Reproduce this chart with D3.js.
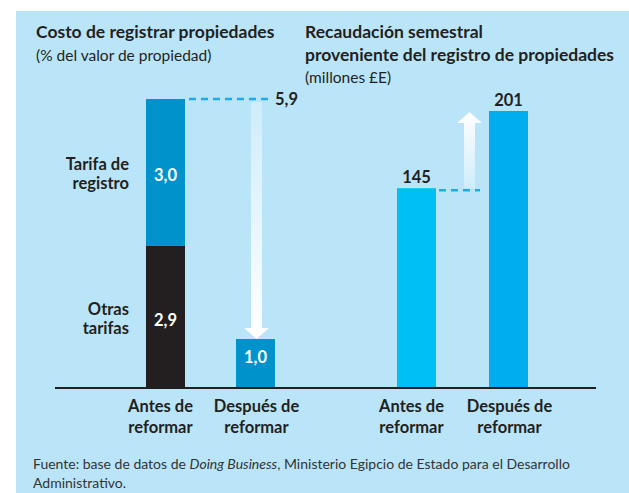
<!DOCTYPE html>
<html>
<head>
<meta charset="utf-8">
<script src="https://cdn.jsdelivr.net/npm/d3@7"></script>
<style>
  html, body { margin: 0; padding: 0; background: #fff; }
  svg { display: block; font-family: Lato, "Noto Sans", sans-serif; }
</style>
</head>
<body>
<div id="chart"></div>
<script>
// Left chart: cost of registering property (% of property value)
const costCategories = ["Antes de reformar", "Después de reformar"];
const otrasTarifas = [2.9, 0];
const tarifaRegistro = [3.0, 1.0];
const costTotalLabel = "5,9";

// Right chart: half-year revenue from property registration (millions £E)
const revCategories = ["Antes de reformar", "Después de reformar"];
const revValues = [145, 201];

const fmt = (v) => d3.format(".1f")(v).replace(".", ",");

const width = 629;
const height = 493;
const baseY = 388;
const barW = 39;

const ink = "#231f20";
const darkBlue = "#0093cb";
const dashBlue = "#1aaee8";
const revColors = ["#00bff3", "#00aeef"];

const titleSize = 17.5;
const subSize = 15.5;
const labelSize = 16.5;

const svg = d3.create("svg")
  .attr("viewBox", [0, 0, width, height])
  .attr("width", width)
  .attr("height", height);

svg.append("rect")
  .attr("x", 16).attr("y", 11)
  .attr("width", width - 16).attr("height", height - 11)
  .attr("fill", "#bae5f9");

const defs = svg.append("defs");
function arrowGradient(id, fadeTop) {
  const g = defs.append("linearGradient")
    .attr("id", id).attr("x1", 0).attr("x2", 0).attr("y1", 0).attr("y2", 1);
  g.append("stop").attr("offset", "0%").attr("stop-color", "#fff")
    .attr("stop-opacity", fadeTop ? 0.3 : 1);
  g.append("stop").attr("offset", "100%").attr("stop-color", "#fff")
    .attr("stop-opacity", fadeTop ? 1 : 0.3);
}
arrowGradient("gradDown", true);
arrowGradient("gradUp", false);

function arrowPath(cx, yFrom, yTo) {
  // shaft 11 wide, head 25 wide, 11 tall
  const dir = yTo > yFrom ? 1 : -1;
  const headBase = yTo - dir * 11;
  return `M${cx - 5.5},${yFrom} L${cx + 5.5},${yFrom} L${cx + 5.5},${headBase}
    L${cx + 12.5},${headBase} L${cx},${yTo} L${cx - 12.5},${headBase}
    L${cx - 5.5},${headBase} Z`;
}

// Titles
svg.append("text")
  .attr("x", 36).attr("y", 38)
  .attr("font-size", titleSize).attr("font-weight", "bold").attr("fill", ink)
  .text("Costo de registrar propiedades");
svg.append("text")
  .attr("x", 36).attr("y", 61)
  .attr("font-size", subSize).attr("fill", ink)
  .text("(% del valor de propiedad)");

const rightTitle = svg.append("text")
  .attr("font-size", titleSize).attr("font-weight", "bold").attr("fill", ink);
rightTitle.append("tspan").attr("x", 305).attr("y", 38).text("Recaudación semestral");
rightTitle.append("tspan").attr("x", 305).attr("y", 61).text("proveniente del registro de propiedades");
svg.append("text")
  .attr("x", 305).attr("y", 83)
  .attr("font-size", subSize).attr("fill", ink)
  .text("(millones £E)");

// ---- Left chart ----
const xL = d3.scalePoint().domain(costCategories).range([165.5, 255.5]);
const yL = d3.scaleLinear().domain([0, 5.9]).range([baseY, 99]);

const stackData = costCategories.map((c, i) => ({
  cat: c, otras: otrasTarifas[i], registro: tarifaRegistro[i]
}));

const left = svg.append("g");

// Otras tarifas segment
left.selectAll("rect.otras")
  .data(stackData.filter((d) => d.otras > 0))
  .join("rect")
  .attr("class", "otras")
  .attr("x", (d) => xL(d.cat) - barW / 2)
  .attr("width", barW)
  .attr("y", (d) => yL(d.otras))
  .attr("height", (d) => baseY - yL(d.otras))
  .attr("fill", ink);

// Tarifa de registro segment
left.selectAll("rect.registro")
  .data(stackData)
  .join("rect")
  .attr("class", "registro")
  .attr("x", (d) => xL(d.cat) - barW / 2)
  .attr("width", barW)
  .attr("y", (d) => yL(d.otras + d.registro))
  .attr("height", (d) => yL(d.otras) - yL(d.otras + d.registro))
  .attr("fill", darkBlue);

// value labels inside segments
const segLabels = [];
stackData.forEach((d) => {
  if (d.otras > 0) segLabels.push({ cat: d.cat, lo: 0, hi: d.otras, v: d.otras });
  segLabels.push({ cat: d.cat, lo: d.otras, hi: d.otras + d.registro, v: d.registro });
});
left.selectAll("text.seg")
  .data(segLabels)
  .join("text")
  .attr("class", "seg")
  .attr("x", (d) => xL(d.cat))
  .attr("y", (d) => {
    const top = yL(d.hi), bot = yL(d.lo);
    return bot - top < 60 ? top + 24 : (top + bot) / 2 + 9;
  })
  .attr("text-anchor", "middle")
  .attr("font-size", labelSize).attr("font-weight", "bold").attr("fill", "#fff")
  .text((d) => fmt(d.v));

// segment names to the left of the first bar
const segNames = [
  { lines: ["Tarifa de", "registro"], lo: otrasTarifas[0], hi: otrasTarifas[0] + tarifaRegistro[0] },
  { lines: ["Otras", "tarifas"], lo: 0, hi: otrasTarifas[0] }
];
segNames.forEach((s) => {
  const mid = (yL(s.lo) + yL(s.hi)) / 2;
  const t = left.append("text")
    .attr("text-anchor", "end")
    .attr("font-size", labelSize).attr("font-weight", "bold").attr("fill", ink);
  s.lines.forEach((ln, i) => {
    t.append("tspan")
      .attr("x", 129)
      .attr("y", mid - 2 + i * 19)
      .text(ln);
  });
});

// dashed reference line at total and its label
const totalY = yL(otrasTarifas[0] + tarifaRegistro[0]);
left.append("line")
  .attr("x1", xL(costCategories[0]) + barW / 2 + 4)
  .attr("x2", xL(costCategories[1]) + barW / 2 - 2)
  .attr("y1", totalY).attr("y2", totalY)
  .attr("stroke", dashBlue).attr("stroke-width", 2.5)
  .attr("stroke-dasharray", "7,5");
left.append("text")
  .attr("x", xL(costCategories[1]) + barW / 2)
  .attr("y", totalY + 6)
  .attr("font-size", labelSize).attr("font-weight", "bold").attr("fill", ink)
  .text(costTotalLabel);

// down arrow
left.append("path")
  .attr("d", arrowPath(xL(costCategories[1]) + 1, totalY + 3, yL(tarifaRegistro[1])))
  .attr("fill", "url(#gradDown)");

// ---- Right chart ----
const xR = d3.scalePoint().domain(revCategories).range([416.5, 508.5]);
const yR = d3.scaleLinear().domain([0, 201]).range([baseY, 111]);

const right = svg.append("g");

right.selectAll("rect")
  .data(revValues)
  .join("rect")
  .attr("x", (d, i) => xR(revCategories[i]) - barW / 2)
  .attr("width", barW)
  .attr("y", (d) => yR(d))
  .attr("height", (d) => baseY - yR(d))
  .attr("fill", (d, i) => revColors[i]);

right.selectAll("text.val")
  .data(revValues)
  .join("text")
  .attr("class", "val")
  .attr("x", (d, i) => xR(revCategories[i]))
  .attr("y", (d) => yR(d) - 5)
  .attr("text-anchor", "middle")
  .attr("font-size", labelSize).attr("font-weight", "bold").attr("fill", ink)
  .text((d) => d);

const beforeY = yR(revValues[0]) + 2;
right.append("line")
  .attr("x1", xR(revCategories[0]) + barW / 2 + 3)
  .attr("x2", xR(revCategories[1]) - barW / 2 - 9)
  .attr("y1", beforeY).attr("y2", beforeY)
  .attr("stroke", dashBlue).attr("stroke-width", 2.5)
  .attr("stroke-dasharray", "7,5");

right.append("path")
  .attr("d", arrowPath((xR(revCategories[0]) + xR(revCategories[1])) / 2 + 7, beforeY - 2, yR(revValues[1]) + 1))
  .attr("fill", "url(#gradUp)");

// ---- Axis baseline and category labels ----
svg.append("line")
  .attr("x1", 55).attr("x2", 596)
  .attr("y1", baseY).attr("y2", baseY)
  .attr("stroke", ink).attr("stroke-width", 2);

function catLabels(g, scale, cats) {
  cats.forEach((c) => {
    const words = c.split(" ");
    const lines = [words.slice(0, -1).join(" "), words[words.length - 1]];
    const t = g.append("text")
      .attr("text-anchor", "middle")
      .attr("font-size", labelSize).attr("font-weight", "bold").attr("fill", ink);
    lines.forEach((ln, i) => {
      t.append("tspan")
        .attr("x", scale(c) + (c.startsWith("Antes") ? -5 : 1))
        .attr("y", 412 + i * 21)
        .text(ln);
    });
  });
}
catLabels(left, xL, costCategories);
catLabels(right, xR, revCategories);

// ---- Source note ----
const note = svg.append("text")
  .attr("font-size", 14).attr("fill", "#333");
const l1 = note.append("tspan").attr("x", 33).attr("y", 469);
l1.append("tspan").text("Fuente: base de datos de ");
l1.append("tspan").attr("font-style", "italic").text("Doing Business");
l1.append("tspan").text(", Ministerio Egipcio de Estado para el Desarrollo");
note.append("tspan").attr("x", 33).attr("y", 488).text("Administrativo.");

d3.select("#chart").append(() => svg.node());
</script>
</body>
</html>
